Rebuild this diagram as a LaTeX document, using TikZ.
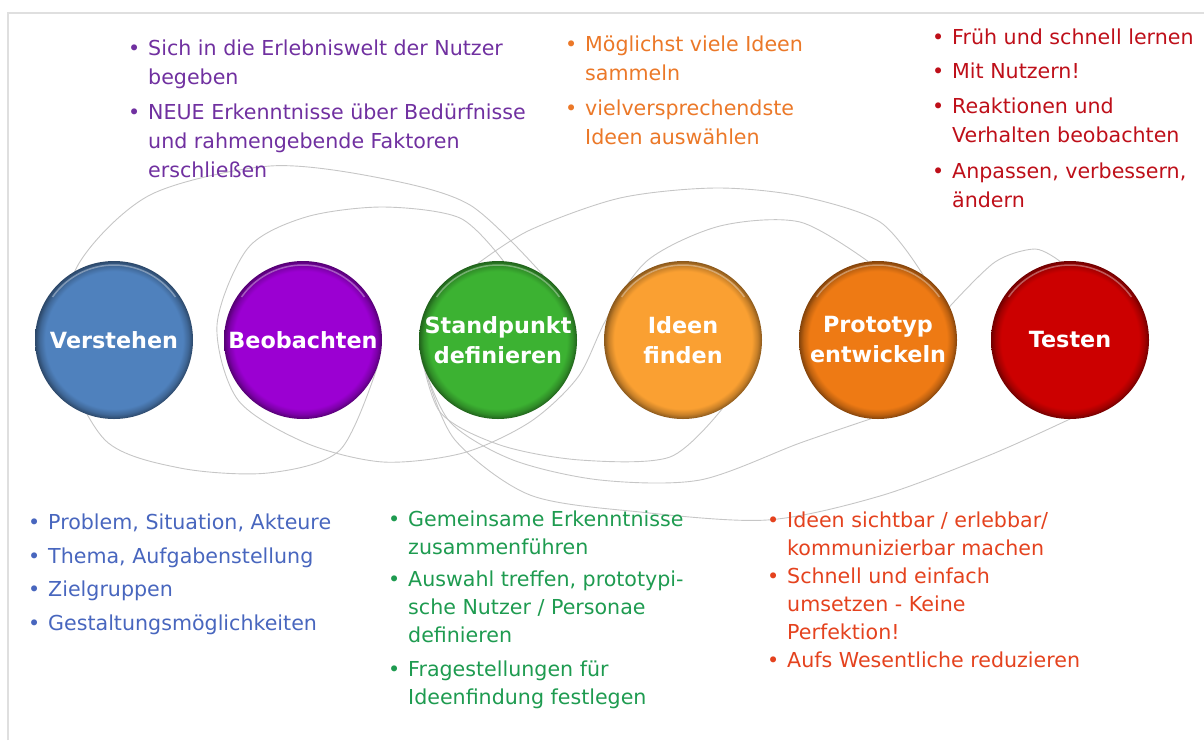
\documentclass[tikz,border=0pt]{standalone}
\usepackage{fontspec}
\setmainfont{DejaVu Sans}
\usetikzlibrary{positioning}

\definecolor{cVer}{RGB}{79,129,189}
\definecolor{cBeo}{RGB}{155,0,210}
\definecolor{cStd}{RGB}{60,178,50}
\definecolor{cIde}{RGB}{250,160,50}
\definecolor{cPro}{RGB}{238,122,20}
\definecolor{cTes}{RGB}{204,0,0}
\definecolor{tVer}{RGB}{72,102,190}
\definecolor{tBeo}{RGB}{112,48,160}
\definecolor{tStd}{RGB}{30,155,80}
\definecolor{tIde}{RGB}{235,120,40}
\definecolor{tPro}{RGB}{228,66,30}
\definecolor{tTes}{RGB}{190,15,25}

\colorlet{btncol}{black}
\pgfdeclareradialshading[btncol]{btn}{\pgfpoint{0bp}{0bp}}{color(0bp)=(btncol); color(21.8bp)=(btncol); color(23.6bp)=(btncol!80!black); color(25bp)=(btncol!55!black); color(50bp)=(btncol!55!black)}

\pgfdeclarelayer{bg}
\pgfsetlayers{bg,main}

\newcommand\bul{\makebox[20pt][l]{\textbullet}}

\begin{document}
\begin{tikzpicture}[
    x=1pt, y=-1pt,
    btn/.style={circle, minimum size=158pt, inner sep=0pt, outer sep=0pt, shade, shading=btn,
      /utils/exec={\colorlet{btncol}{#1}}, text=white, align=center,
      font=\fontsize{22.3}{30}\selectfont\bfseries},
    txt/.style={anchor=north west, inner sep=0pt, align=left, text=#1,
      font=\fontsize{20.6}{28}\selectfont},
    wide/.style={font=\fontsize{20.6}{29}\selectfont},
    coil/.style={draw=gray!45, line width=0.9pt},
  ]
    \useasboundingbox (0,0) rectangle (1204,740);
    \draw[gray!25, line width=1.5pt] (8,740) -- (8,13) -- (1204,13);

    % the six steps
    \node[btn=cVer] (ver) at (114,340) {Verstehen};
    \node[btn=cBeo, right=31pt of ver] (beo) {Beobachten};
    \node[btn=cStd, right=37pt of beo] (std) {Standpunkt\\definieren};
    \node[btn=cIde, right=27pt of std] (ide) {Ideen\\finden};
    \node[btn=cPro, right=37pt of ide] (pro) {Prototyp\\entwickeln};
    \node[btn=cTes, right=34pt of pro] (tes) {Testen};

    % light rim on top
    \foreach \n in {ver,beo,std,ide,pro,tes}
      \draw[white, opacity=0.35, line width=1.5pt] ([shift={(145:75pt)}]\n.center) arc[start angle=145, end angle=35, radius=75pt];

    % loops behind the circles
    \begin{pgfonlayer}{bg}
    \draw[coil] plot[smooth] coordinates {(beo.-20) (340,450) (268,473) (180,468) (105,440)
      (62,350) (78,265) (150,195) (270,166) (380,178) (470,205) (std.55)};
    \draw[coil] plot[smooth] coordinates {(std.86) (460,218) (383,207) (306,217) (248,248) (217,325)
      (238,400) (306,443) (383,462) (463,453) (530,422) (578,377) (607,318) (648,260) (720,226)
      (800,222) (pro.97)};
    \draw[coil] plot[smooth] coordinates {(std.105) (530,230) (620,198) (715,188) (800,196) (880,222)
      (pro.55)};
    \draw[coil] plot[smooth] coordinates {(std.183) (440,412) (500,445) (580,460) (670,457)
      (ide.-60)};
    \draw[coil] plot[smooth] coordinates {(std.195) (450,422) (513,460) (600,480) (700,480)
      (800,443) (pro.-95)};
    \draw[coil] plot[smooth] coordinates {(std.205) (455,440) (530,495) (640,512) (767,520)
      (880,496) (990,455) (tes.-90)};
    \draw[coil] plot[smooth] coordinates {(pro.25) (995,262) (1035,249) (tes.97)};
    \end{pgfonlayer}

    % bullet texts
    \node[txt=tBeo, wide] (nbeo) at (128,35) {\begin{tabular}{@{}l@{}l@{}}
      \bul & Sich in die Erlebniswelt der Nutzer\\
           & begeben\\[6pt]
      \bul & NEUE Erkenntnisse über Bedürfnisse\\
           & und rahmengebende Faktoren\\
           & erschließen
    \end{tabular}};
    \node[txt=tIde, wide] (nide) at (565,31) {\begin{tabular}{@{}l@{}l@{}}
      \bul & Möglichst viele Ideen\\
           & sammeln\\[6pt]
      \bul & vielversprechendste\\
           & Ideen auswählen
    \end{tabular}};
    \node[txt=tTes, wide] (ntes) at (932,24) {\begin{tabular}{@{}l@{}l@{}}
      \bul & Früh und schnell lernen\\[5pt]
      \bul & Mit Nutzern!\\[6pt]
      \bul & Reaktionen und\\
           & Verhalten beobachten\\[7pt]
      \bul & Anpassen, verbessern,\\
           & ändern
    \end{tabular}};
    \node[txt=tVer] (nver) at (28,510) {\begin{tabular}{@{}l@{}l@{}}
      \bul & Problem, Situation, Akteure\\[5.5pt]
      \bul & Thema, Aufgabenstellung\\[5.5pt]
      \bul & Zielgruppen\\[5.5pt]
      \bul & Gestaltungsmöglichkeiten
    \end{tabular}};
    \node[txt=tStd] (nstd) at (388,507) {\begin{tabular}{@{}l@{}l@{}}
      \bul & Gemeinsame Erkenntnisse\\
           & zusammenführen\\[4pt]
      \bul & Auswahl treffen, prototypi-\\
           & sche Nutzer / Personae\\
           & definieren\\[6pt]
      \bul & Fragestellungen für\\
           & Ideenfindung festlegen
    \end{tabular}};
    \node[txt=tPro] (npro) at (767,508) {\begin{tabular}{@{}l@{}l@{}}
      \bul & Ideen sichtbar / erlebbar/\\
           & kommunizierbar machen\\
      \bul & Schnell und einfach\\
           & umsetzen - Keine\\
           & Perfektion!\\
      \bul & Aufs Wesentliche reduzieren
    \end{tabular}};
\end{tikzpicture}
\end{document}
